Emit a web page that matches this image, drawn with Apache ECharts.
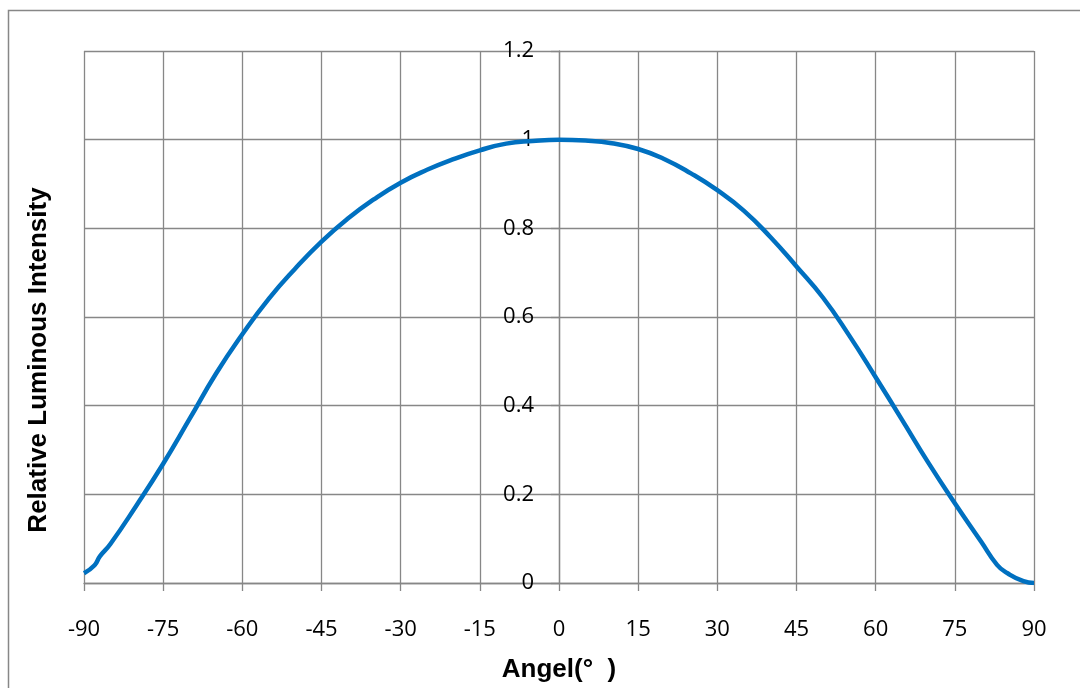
<!DOCTYPE html>
<html>
<head>
<meta charset="utf-8">
<script src="https://cdn.jsdelivr.net/npm/echarts@6/dist/echarts.min.js"></script>
<style>html,body{margin:0;padding:0;background:#fff}#c{width:1080px;height:688px}</style>
</head>
<body>
<div id="c"></div>
<script>
// Data
const angles = [-90, -88, -87, -85, -80, -75, -70, -65, -60, -55, -50, -45, -40, -35, -30, -25, -20, -15, -10, -5, 0,
                5, 10, 15, 20, 25, 30, 35, 40, 45, 50, 55, 60, 65, 70, 75, 80, 83, 85, 88, 90];
const intensity = [0.022, 0.040, 0.060, 0.088, 0.176, 0.269, 0.370, 0.472, 0.561, 0.641, 0.709, 0.770, 0.822, 0.866, 0.903, 0.932, 0.956, 0.976, 0.991, 0.997, 1.000,
                   0.998, 0.992, 0.979, 0.956, 0.924, 0.886, 0.840, 0.781, 0.714, 0.644, 0.558, 0.464, 0.368, 0.271, 0.180, 0.093, 0.041, 0.022, 0.004, 0.000];
const xTicks = [-90, -75, -60, -45, -30, -15, 0, 15, 30, 45, 60, 75, 90];
const yTicks = [0, 0.2, 0.4, 0.6, 0.8, 1, 1.2];
const xTitle = 'Angel(°  )';
const yTitle = 'Relative Luminous Intensity';

const points = angles.map((a, i) => [a, intensity[i]]);
const gridColor = '#878787';
const gridLeft = 84, gridRight = 46;
const plotW = 1080 - gridLeft - gridRight;
// y axis sits where angle = 0
const yAxisShift = plotW * (0 - xTicks[0]) / (xTicks[xTicks.length - 1] - xTicks[0]);
const chart = echarts.init(document.getElementById('c'), null, {renderer: 'canvas'});
chart.setOption({
  animation: false,
  backgroundColor: '#fff',
  grid: {left: gridLeft, right: gridRight, top: 51, bottom: 101, containLabel: false},
  xAxis: {
    type: 'value', min: xTicks[0], max: xTicks[xTicks.length - 1], interval: 15,
    axisLine: {show: true, onZero: false, lineStyle: {color: gridColor, width: 1.3}},
    axisTick: {show: true, length: 8, inside: false, lineStyle: {color: gridColor, width: 1.3}},
    splitLine: {show: true, lineStyle: {color: gridColor, width: 1.3}},
    axisLabel: {color: '#000', fontFamily: 'Open Sans', fontSize: 22, margin: 36, showMinLabel: true, showMaxLabel: true},
    name: xTitle, nameLocation: 'middle', nameGap: 74,
    nameTextStyle: {color: '#000', fontFamily: 'Liberation Sans', fontWeight: 'bold', fontSize: 26}
  },
  yAxis: {
    type: 'value', min: yTicks[0], max: yTicks[yTicks.length - 1], interval: 0.2,
    position: 'left', offset: -yAxisShift,
    axisLine: {show: true, onZero: false, lineStyle: {color: gridColor, width: 1.3}},
    axisTick: {show: true, length: 8, inside: false, lineStyle: {color: gridColor, width: 1.3}},
    splitLine: {show: true, lineStyle: {color: gridColor, width: 1.3}},
    axisLabel: {color: '#000', fontFamily: 'Open Sans', fontSize: 22, margin: 25,
      formatter: v => String(Math.round(v * 10) / 10)}
  },
  graphic: [
    {type: 'rect', left: 6, top: 8, shape: {width: 1200, height: 800},
     style: {fill: 'none', stroke: gridColor, lineWidth: 1.5}, silent: true, z: -1},
    {type: 'text', x: 39, y: 360, rotation: Math.PI / 2,
     style: {text: yTitle, fill: '#000', font: 'bold 26px "Liberation Sans", Arial, sans-serif',
             align: 'center', verticalAlign: 'middle'}}
  ],
  series: [{
    type: 'line', data: points, smooth: 0.5, showSymbol: false,
    lineStyle: {color: '#0070C0', width: 4.5}, itemStyle: {color: '#0070C0'}
  }]
});
</script>
</body>
</html>
